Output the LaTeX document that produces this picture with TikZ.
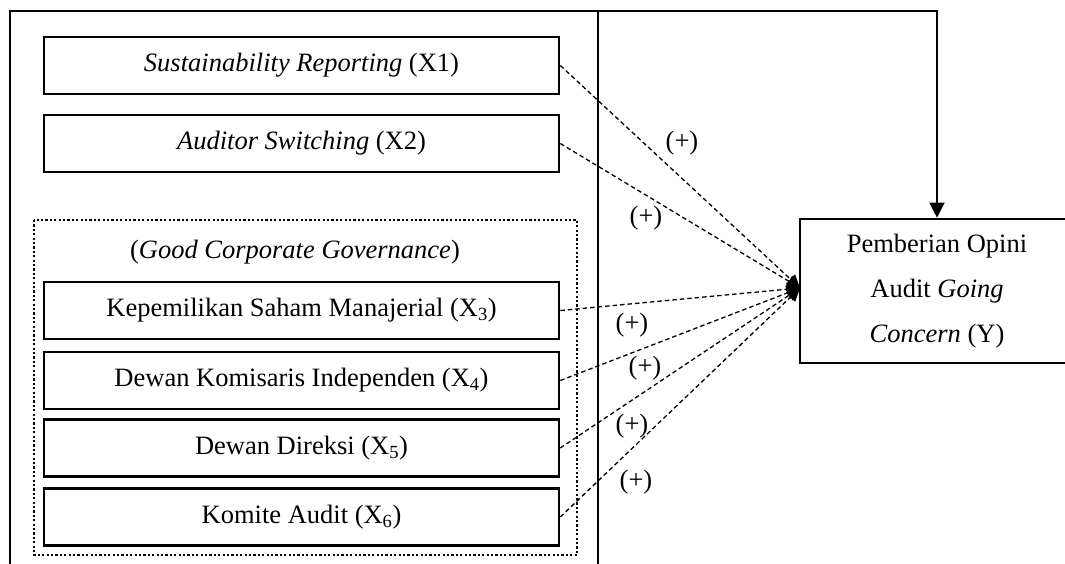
\documentclass[tikz,border=0pt]{standalone}
\usepackage{fontspec}
\setmainfont{Liberation Serif}
\usetikzlibrary{arrows.meta}
\begin{document}
\begin{tikzpicture}[x=1pt,y=-1pt,
  txt/.style={font=\fontsize{26.5}{45}\selectfont},
  varbox/.style={txt,draw,line width=2.6pt,minimum width=515pt,minimum height=57pt,inner sep=0pt,anchor=center},
  ybox/.style={txt,draw,line width=2.6pt,minimum width=274pt,minimum height=144pt,inner sep=0pt,align=center},
  outerline/.style={line width=2.6pt},
  dotbox/.style={line width=2.6pt,dash pattern=on 2.2pt off 2.2pt},
  dashlink/.style={line width=1.3pt,dash pattern=on 4.5pt off 3pt,-{Triangle[width=13pt,length=13pt]}},
  toplink/.style={line width=1.5pt,-{Triangle[width=15pt,length=15pt]}},
  plus/.style={txt,inner sep=0pt}
]
\useasboundingbox (0,0) rectangle (1065,563);
\clip (0,0) rectangle (1065,563);
% outer frame
\draw[outerline] (10,580) -- (10,11) -- (598,11) -- (598,580);
\coordinate (otr) at (598,11);
% dotted GCG frame
\draw[dotbox] (34,220) rectangle (577,555);
\node[txt] (gcg) at (295,252) {(\textit{Good Corporate Governance})};
% variable boxes
\node[varbox] (x1) at (301.5,65.5) {\textit{Sustainability Reporting} (X1)};
\node[varbox] (x2) at (301.5,143.5) {\textit{Auditor Switching} (X2)};
\node[varbox] (x3) at (301.5,310.5) {Kepemilikan Saham Manajerial (X\textsubscript{3})};
\node[varbox] (x4) at (301.5,380.5) {Dewan Komisaris Independen (X\textsubscript{4})};
\node[varbox] (x5) at (301.5,448) {Dewan Direksi (X\textsubscript{5})};
\node[varbox] (x6) at (301.5,517) {Komite Audit (X\textsubscript{6})};
% dependent variable
\node[ybox] (y) at (937,291) {Pemberian Opini\\Audit \textit{Going}\\\textit{Concern} (Y)};
\coordinate (tip) at (800,288);
% connectors
\foreach \s in {x1,x2,x3,x4,x5,x6}{
  \draw[dashlink] (\s.east) -- (tip);
}
\draw[toplink] (otr) -| (y.north);
% labels
\node[plus] (p1) at (682,143) {(+)};
\node[plus] (p2) at (646,218) {(+)};
\node[plus] (p3) at (632,325) {(+)};
\node[plus] (p4) at (645,368) {(+)};
\node[plus] (p5) at (632,426) {(+)};
\node[plus] (p6) at (636,482) {(+)};
\end{tikzpicture}
\end{document}
